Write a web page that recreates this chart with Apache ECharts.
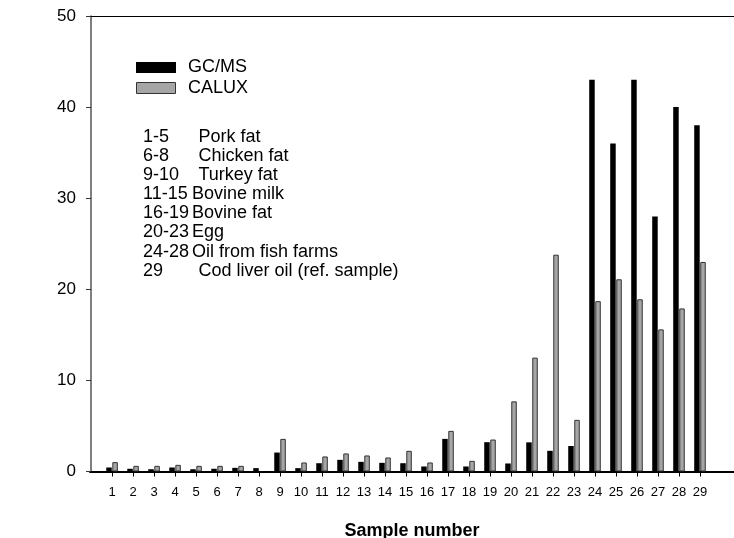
<!DOCTYPE html>
<html>
<head>
<meta charset="utf-8">
<script src="https://cdn.jsdelivr.net/npm/echarts@6/dist/echarts.min.js"></script>
<style>
  html, body { margin: 0; padding: 0; background: #fff; }
  #chart { width: 734px; height: 538px; }
</style>
</head>
<body>
<div id="chart"></div>
<script>
const samples = [1, 2, 3, 4, 5, 6, 7, 8, 9, 10, 11, 12, 13, 14, 15, 16, 17, 18, 19, 20, 21, 22, 23, 24, 25, 26, 27, 28, 29];
const gcms = [0.44, 0.3, 0.25, 0.44, 0.25, 0.3, 0.4, 0.37, 2.08, 0.37, 0.91, 1.28, 1.06, 0.95, 0.91, 0.55, 3.58, 0.55, 3.22, 0.88, 3.2, 2.27, 2.8, 43, 36, 43, 28, 40, 38];
const calux = [1.03, 0.62, 0.62, 0.73, 0.62, 0.62, 0.62, null, 3.58, 0.99, 1.65, 1.98, 1.76, 1.54, 2.27, 0.99, 4.46, 1.17, 3.51, 7.7, 12.5, 23.8, 5.67, 18.7, 21.1, 18.9, 15.6, 17.9, 23];
const groupCodes = ["1-5", "6-8", "9-10", "11-15", "16-19", "20-23", "24-28", "29"];
const groupNames = ["Pork fat", "Chicken fat", "Turkey fat", "Bovine milk", "Bovine fat", "Egg", "Oil from fish farms", "Cod liver oil (ref. sample)"];

const chart = echarts.init(document.getElementById("chart"));
const font = "Liberation Sans, Arial, sans-serif";

const graphics = [
  { type: "rect", shape: { x: 136, y: 62, width: 40, height: 11 }, style: { fill: "#000" } },
  { type: "text", style: { x: 188, y: 67, text: "GC/MS", font: "18px " + font, fill: "#000", textVerticalAlign: "middle" } },
  { type: "rect", shape: { x: 136.5, y: 82.5, width: 39, height: 11 }, style: { fill: "#a6a6a6", stroke: "#333", lineWidth: 1 } },
  { type: "text", style: { x: 188, y: 88, text: "CALUX", font: "18px " + font, fill: "#000", textVerticalAlign: "middle" } }
];
groupCodes.forEach((code, i) => {
  const y = 137 + i * 19.1;
  graphics.push({ type: "text", style: { x: 143, y: y, text: code, font: "18px " + font, fill: "#000", textVerticalAlign: "middle" } });
  graphics.push({ type: "text", style: { x: code.length >= 5 ? 192 : 198.5, y: y, text: groupNames[i], font: "18px " + font, fill: "#000", textVerticalAlign: "middle" } });
});

const option = {
  animation: false,
  grid: { left: 90, right: 0, top: 16, bottom: 66.5, outerBoundsMode: "none" },
  xAxis: [
    {
      type: "value",
      min: -0.05,
      max: 30.62,
      name: "Sample number",
      nameLocation: "middle",
      nameGap: 51,
      nameTextStyle: { fontFamily: font, fontSize: 18, fontWeight: "bold", color: "#000" },
      axisLine: { show: true, onZero: false, lineStyle: { color: "#000", width: 2 } },
      axisTick: { show: true, customValues: samples, length: 5, lineStyle: { color: "#000", width: 1 } },
      axisLabel: { customValues: samples, margin: 14, fontFamily: font, fontSize: 13, color: "#000" },
      splitLine: { show: false }
    },
    {
      type: "value",
      position: "top",
      min: -0.05,
      max: 30.62,
      axisLine: { show: true, onZero: false, lineStyle: { color: "#000", width: 1 } },
      axisTick: { show: false },
      axisLabel: { show: false },
      splitLine: { show: false }
    }
  ],
  yAxis: {
    type: "value",
    min: 0,
    max: 50,
    interval: 10,
    axisLine: { show: true, lineStyle: { color: "#555", width: 1.5 } },
    axisTick: { show: true, length: 5, lineStyle: { color: "#333", width: 1 } },
    axisLabel: { margin: 14, fontFamily: font, fontSize: 17, color: "#000" },
    splitLine: { show: false }
  },
  graphic: graphics,
  series: [
    {
      name: "GC/MS",
      type: "bar",
      barWidth: 5.5,
      barGap: "10%",
      itemStyle: { color: "#000" },
      data: samples.map((s, i) => [s, gcms[i]])
    },
    {
      name: "CALUX",
      type: "bar",
      barWidth: 5.5,
      itemStyle: { color: "#a6a6a6", borderColor: "#333", borderWidth: 1 },
      data: samples.map((s, i) => [s, calux[i]])
    }
  ]
};
chart.setOption(option);
</script>
</body>
</html>
